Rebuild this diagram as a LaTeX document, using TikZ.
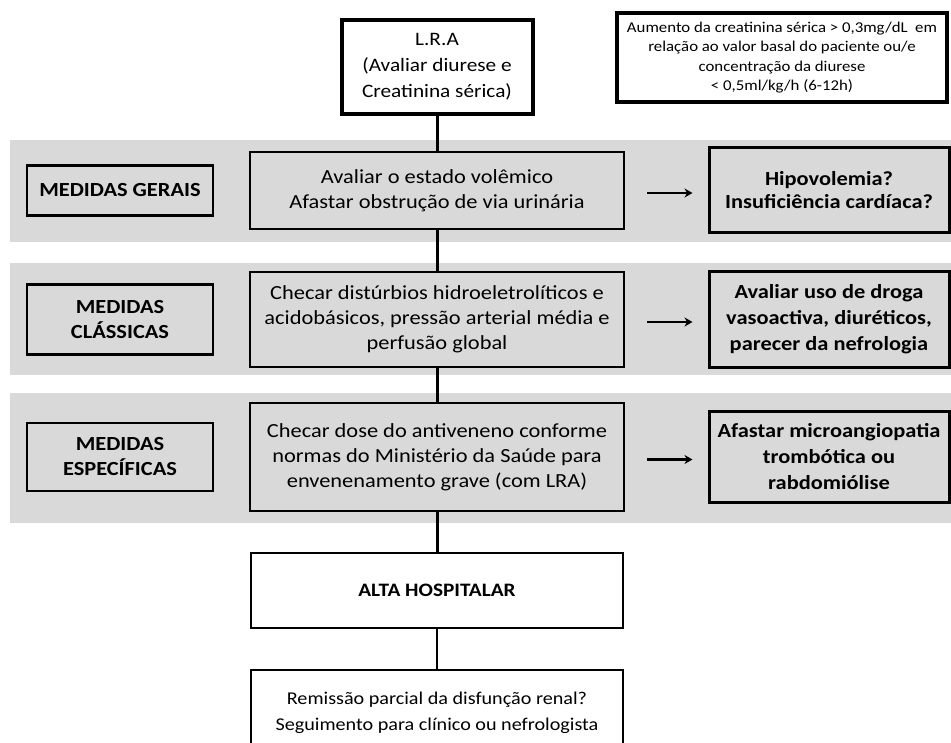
\documentclass[tikz,border=0pt]{standalone}
\usepackage{fontspec}
\setmainfont{Carlito}[FakeStretch=1.12]
\usepackage{tikz}
\usetikzlibrary{positioning,arrows.meta}
\definecolor{cinza}{RGB}{217,217,217}

\begin{document}
\begin{tikzpicture}[x=1pt,y=-1pt,node distance=392pt,on grid,
    caixa/.style={draw, line width=2.5pt, fill=cinza, align=center, inner sep=0pt,
                  font=\fontsize{20}{25}\selectfont},
    meio/.style={caixa, minimum width=374pt},
    lado/.style={caixa, minimum width=186pt, font=\bfseries\fontsize{20}{25}\selectfont},
    conduta/.style={caixa, minimum width=240pt, line width=3pt,
                    font=\bfseries\fontsize{20}{26}\selectfont},
    branco/.style={caixa, fill=white},
    faixa/.style={fill=cinza},
    liga/.style={line width=3pt},
    seta/.style={line width=2.5pt, -{Stealth[length=8pt,width=9pt]}}]
  \clip (0,0) rectangle (951,743);
  % faixas
  \fill[faixa] (10,140) rectangle (951,242);
  \fill[faixa] (10,263) rectangle (951,375);
  \fill[faixa] (10,393) rectangle (951,523);

  \node[branco, line width=4pt, minimum width=191pt, minimum height=94pt,
        font=\fontsize{19}{26}\selectfont] (lra) at (437,67)
       {L.R.A\\(Avaliar diurese e\\Creatinina sérica)};
  \node[branco, line width=3.5pt, minimum width=330pt, minimum height=89pt,
        font=\fontsize{15}{19.5}\selectfont] (def) at (782,57.5)
       {Aumento da creatinina sérica > 0,3mg/dL\ \ em\\relação ao valor basal do paciente ou/e\\concentração da diurese\\< 0,5ml/kg/h (6-12h)};

  \node[meio, minimum height=77pt] (gerais) at (437,190.5)
       {Avaliar o estado volêmico\\Afastar obstrução de via urinária};
  \node[lado, minimum height=50pt] (lgerais) [left=317pt of gerais] {MEDIDAS GERAIS};
  \node[conduta, minimum height=85pt, font=\bfseries\fontsize{20}{23}\selectfont] (rgerais)
       [right=of gerais] {Hipovolemia?\\Insuficiência cardíaca?};

  \node[meio, minimum height=95pt] (classicas) at (437,319.5)
       {Checar distúrbios hidroeletrolíticos e\\acidobásicos, pressão arterial média e\\perfusão global};
  \node[lado, minimum height=70pt] (lclassicas) [left=317pt of classicas] {MEDIDAS\\CLÁSSICAS};
  \node[conduta, minimum height=96pt] (rclassicas) [right=of classicas]
       {Avaliar uso de droga\\vasoactiva, diuréticos,\\parecer da nefrologia};

  \node[meio, minimum height=108pt] (especificas) at (437,457)
       {Checar dose do antiveneno conforme\\normas do Ministério da Saúde para\\envenenamento grave (com LRA)};
  \node[lado, minimum height=68pt] (lespecificas) [left=317pt of especificas] {MEDIDAS\\ESPECÍFICAS};
  \node[conduta, minimum height=91pt] (respecificas) [right=of especificas]
       {Afastar microangiopatia\\trombótica ou\\rabdomiólise};

  \node[branco, minimum width=372pt, minimum height=75pt,
        font=\bfseries\fontsize{19}{25}\selectfont] (alta) at (437,590.5) {ALTA HOSPITALAR};
  \node[branco, minimum width=372pt, minimum height=86pt,
        font=\fontsize{18}{26}\selectfont] (remissao) at (437,713)
       {Remissão parcial da disfunção renal?\\Seguimento para clínico ou nefrologista};

  \draw[liga] (lra) -- (gerais) -- (classicas) -- (especificas) -- (alta);
  \draw[line width=2pt] (alta) -- (remissao);
  \draw[seta] ([xshift=22pt,yshift=-2.5pt]gerais.east) -- ([xshift=-15pt,yshift=-2.5pt]rgerais.west);
  \draw[seta] ([xshift=22pt,yshift=-2.5pt]classicas.east) -- ([xshift=-15pt,yshift=-2.5pt]rclassicas.west);
  \draw[seta] ([xshift=22pt,yshift=-2.5pt]especificas.east) -- ([xshift=-15pt,yshift=-2.5pt]respecificas.west);
\end{tikzpicture}
\end{document}
